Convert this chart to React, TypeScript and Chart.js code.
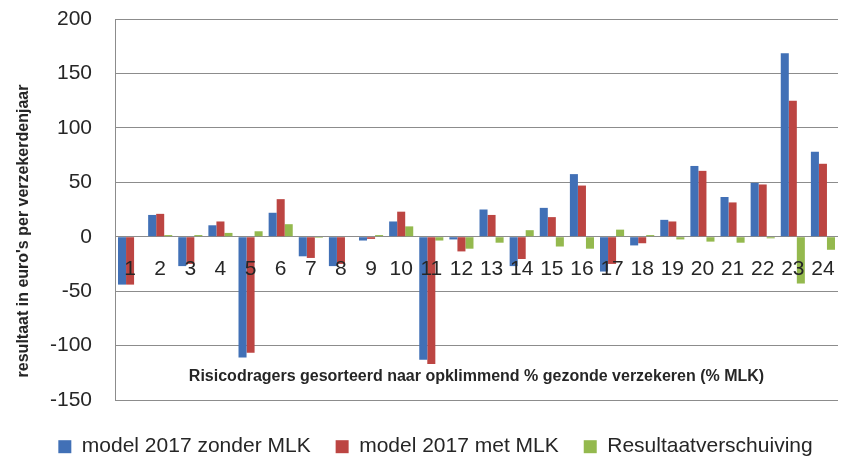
import React, { useEffect, useRef } from "react";
import { Chart, registerables } from "chart.js";

Chart.register(...registerables);

const categories = ["1","2","3","4","5","6","7","8","9","10","11","12","13","14","15","16","17","18","19","20","21","22","23","24"];
const zonderMLK = [-44, 20, -27, 10.5, -111, 22, -18, -27, -3.5, 14, -113, -2.5, 25, -27, 26.5, 57.5, -32, -8, 15.5, 65, 36.5, 49.5, 168.5, 78];
const metMLK = [-44, 21, -25, 14, -106.5, 34.5, -19.5, -25, -2, 23, -117, -13.5, 20, -20.5, 18, 47, -25, -6, 14, 60.5, 31.5, 48, 125, 67];
const verschuiving = [0, 1.5, 1.5, 3.5, 5, 11.5, -1, 0, 1.5, 9.5, -3.5, -11, -5.5, 6, -9, -11, 6.5, 1.5, -2.5, -4.5, -5.5, -1.5, -43, -12];
const seriesNames = ["model 2017 zonder MLK", "model 2017 met MLK", "Resultaatverschuiving"];
const yTitle = "resultaat in euro's per verzekerdenjaar";
const xTitle = "Risicodragers gesorteerd naar opklimmend % gezonde verzekeren (% MLK)";

const FONT = "'Liberation Sans', Arial, sans-serif";
const TEXT = "#262626";
const GRID = "#8c8c8c";

const titlesPlugin = {
  id: "axisTitles",
  afterDraw(chart: any) {
    const { ctx, chartArea } = chart;
    ctx.save();
    ctx.fillStyle = TEXT;
    ctx.font = `bold 16px ${FONT}`;
    ctx.textAlign = "center";
    ctx.textBaseline = "middle";
    ctx.fillText(xTitle, (chartArea.left + chartArea.right) / 2, 377);
    ctx.translate(24, 231);
    ctx.rotate(-Math.PI / 2);
    ctx.fillText(yTitle, 0, 0);
    ctx.restore();
  },
};

const zeroPad = (s: any) => {
  s.paddingTop = 0;
  s.paddingBottom = 0;
  s.paddingLeft = 0;
  s.paddingRight = 0;
};

export default function App() {
  const ref = useRef<HTMLCanvasElement | null>(null);
  useEffect(() => {
    if (!ref.current) return;
    const chart = new Chart(ref.current, {
      type: "bar",
      data: {
        labels: categories,
        datasets: [
          { label: seriesNames[0], data: zonderMLK, backgroundColor: "#4170B6", borderWidth: 0 },
          { label: seriesNames[1], data: metMLK, backgroundColor: "#BC4542", borderWidth: 0 },
          { label: seriesNames[2], data: verschuiving, backgroundColor: "#94B94E", borderWidth: 0 },
        ],
      },
      options: {
        responsive: false,
        animation: false,
        layout: { padding: { top: 19, right: 8, left: 33, bottom: 0 } },
        datasets: { bar: { categoryPercentage: 0.8, barPercentage: 1.0 } },
        scales: {
          x: {
            type: "category",
            position: { y: 0 },
            grid: { display: false, drawTicks: false },
            border: { display: false },
            afterFit: zeroPad,
            z: 1,
            ticks: {
              z: 1,
              padding: 20,
              autoSkip: false,
              maxRotation: 0,
              color: TEXT,
              font: { size: 21, family: FONT },
            },
          },
          y: {
            min: -150,
            max: 200,
            afterFit: (s: any) => { s.width = 82; zeroPad(s); },
            grid: { color: GRID, drawTicks: false, lineWidth: 1 },
            border: { display: true, color: GRID },
            ticks: {
              stepSize: 50,
              padding: 23,
              color: TEXT,
              font: { size: 21, family: FONT },
            },
          },
        },
        plugins: {
          tooltip: { enabled: false },
          legend: {
            position: "bottom",
            maxHeight: 58,
            title: { display: true, text: " ", font: { size: 1 }, padding: 5 },
            labels: {
              boxWidth: 13,
              boxHeight: 13,
              padding: 25,
              color: TEXT,
              font: { size: 21, family: FONT },
            },
          },
        },
      },
      plugins: [titlesPlugin],
    } as any);
    return () => chart.destroy();
  }, []);
  return (
    <div style={{ position: "fixed", left: 0, top: 0, width: 846, height: 458, background: "#fff" }}>
      <canvas ref={ref} width={846} height={458} style={{ display: "block" }} />
    </div>
  );
}
